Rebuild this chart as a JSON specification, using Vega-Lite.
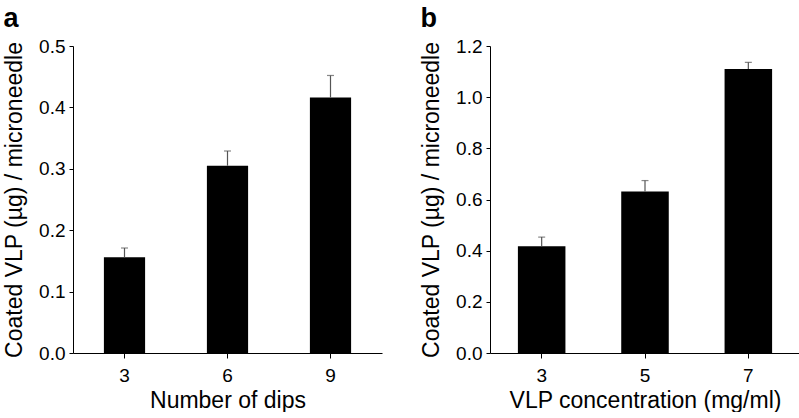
{
  "$schema": "https://vega.github.io/schema/vega-lite/v6.json",
  "padding": {"left": 3, "top": 5, "right": 0, "bottom": 0},
  "background": "white",
  "spacing": 38,
  "config": {
    "font": "Liberation Sans",
    "view": {"stroke": null},
    "axis": {
      "grid": false,
      "domainColor": "black",
      "tickColor": "black",
      "labelColor": "black",
      "titleColor": "black",
      "labelFontSize": 19,
      "titleFontSize": 23,
      "titleFontWeight": "normal",
      "labelFont": "Liberation Sans",
      "titleFont": "Liberation Sans",
      "tickSize": 4,
      "labelPadding": 4
    },
    "title": {"font": "Liberation Sans", "fontSize": 27, "fontWeight": "bold", "color": "black", "anchor": "start", "frame": "bounds"}
  },
  "hconcat": [
    {
      "width": 309,
      "height": 307,
      "title": {"text": "a", "offset": 4},
      "data": {"values": [
        {"dips": 3, "mean": 0.156, "upper": 0.171},
        {"dips": 6, "mean": 0.305, "upper": 0.329},
        {"dips": 9, "mean": 0.416, "upper": 0.452}
      ]},
      "encoding": {
        "x": {"field": "dips", "type": "ordinal", "scale": {"paddingInner": 0.6, "paddingOuter": 0.3},
              "axis": {"labelAngle": 0, "title": "Number of dips", "titlePadding": 4, "tickSize": 5, "labelPadding": 8}},
        "y": {"field": "mean", "type": "quantitative", "scale": {"domain": [0, 0.5]},
              "axis": {"values": [0, 0.1, 0.2, 0.3, 0.4, 0.5], "format": ".1f", "title": "Coated VLP (µg) / microneedle", "titlePadding": 12}}
      },
      "layer": [
        {"mark": {"type": "bar", "color": "black"}},
        {"mark": {"type": "rule", "color": "#555555", "strokeWidth": 1.2}, "encoding": {"y2": {"field": "upper"}}},
        {"mark": {"type": "tick", "color": "#555555", "size": 7, "thickness": 1.2},
         "encoding": {"y": {"field": "upper", "type": "quantitative",
              "axis": {"values": [0, 0.1, 0.2, 0.3, 0.4, 0.5], "format": ".1f", "title": "Coated VLP (µg) / microneedle", "titlePadding": 12}}}}
      ]
    },
    {
      "width": 310,
      "height": 307,
      "title": {"text": "b", "offset": 4},
      "data": {"values": [
        {"conc": 3, "mean": 0.417, "upper": 0.453},
        {"conc": 5, "mean": 0.631, "upper": 0.674},
        {"conc": 7, "mean": 1.110, "upper": 1.136}
      ]},
      "encoding": {
        "x": {"field": "conc", "type": "ordinal", "scale": {"paddingInner": 0.54, "paddingOuter": 0.27},
              "axis": {"labelAngle": 0, "title": "VLP concentration (mg/ml)", "titlePadding": 4, "tickSize": 5, "labelPadding": 8}},
        "y": {"field": "mean", "type": "quantitative", "scale": {"domain": [0, 1.2]},
              "axis": {"values": [0, 0.2, 0.4, 0.6, 0.8, 1.0, 1.2], "format": ".1f", "title": "Coated VLP (µg) / microneedle", "titlePadding": 12}}
      },
      "layer": [
        {"mark": {"type": "bar", "color": "black"}},
        {"mark": {"type": "rule", "color": "#555555", "strokeWidth": 1.2}, "encoding": {"y2": {"field": "upper"}}},
        {"mark": {"type": "tick", "color": "#555555", "size": 7, "thickness": 1.2},
         "encoding": {"y": {"field": "upper", "type": "quantitative",
              "axis": {"values": [0, 0.2, 0.4, 0.6, 0.8, 1.0, 1.2], "format": ".1f", "title": "Coated VLP (µg) / microneedle", "titlePadding": 12}}}}
      ]
    }
  ]
}
